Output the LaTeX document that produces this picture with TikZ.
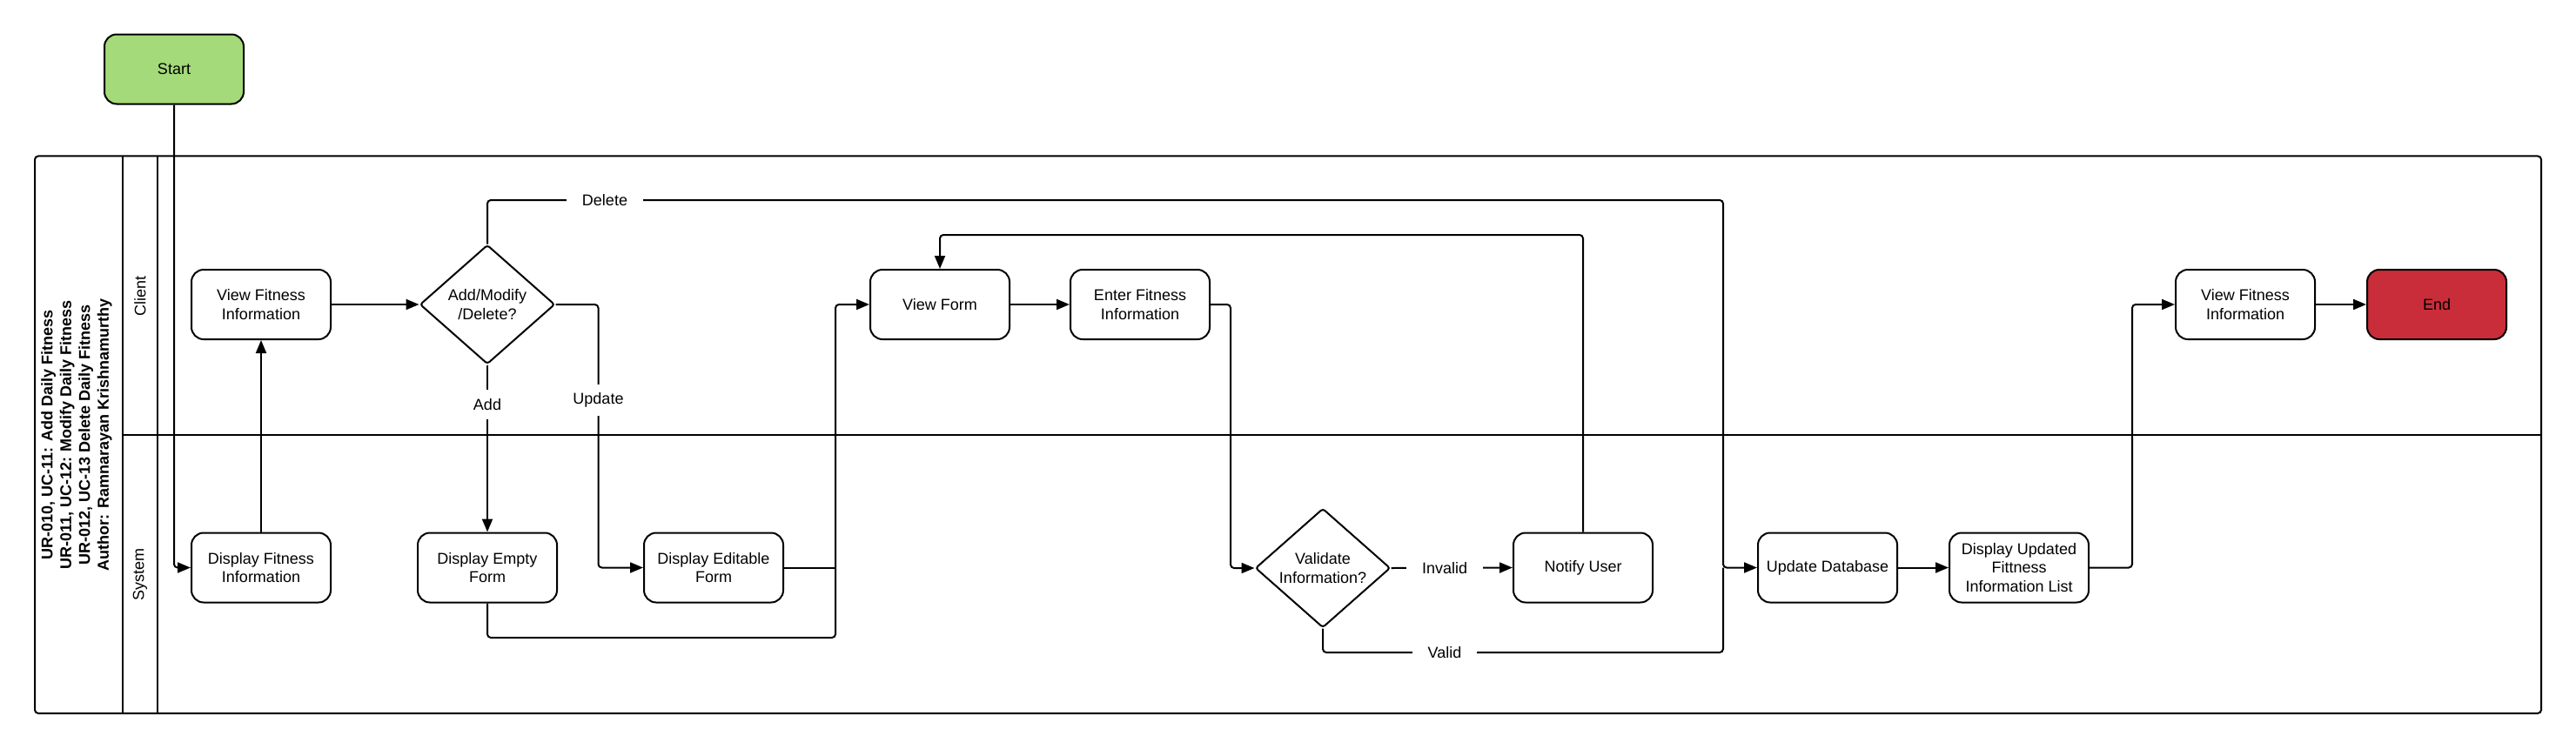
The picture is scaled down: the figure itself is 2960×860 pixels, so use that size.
\documentclass[tikz,border=0pt]{standalone}
\usepackage{fontspec}
\setmainfont{Liberation Sans}
\usetikzlibrary{shapes.geometric,arrows.meta}
\definecolor{startgreen}{HTML}{A4DA79}
\definecolor{endred}{HTML}{C92D39}
\begin{document}
\begin{tikzpicture}[x=1pt,y=-1pt,
  every node/.style={font=\fontsize{18}{21.5}\selectfont},
  box/.style={draw, line width=2pt, rounded corners=14pt, minimum width=160pt, minimum height=80pt, align=center, inner sep=2pt, fill=white},
  decision/.style={draw, diamond, line width=2pt, aspect=1.13, minimum width=155pt, minimum height=137pt, inner sep=0pt, align=center, rounded corners=3pt, fill=white},
  conn/.style={line width=2pt, rounded corners=4pt},
  arr/.style={conn, -{Triangle[length=15pt,width=12pt]}},
  lbl/.style={fill=white, inner xsep=18pt, inner ysep=10pt},
  lane/.style={line width=2pt}]
\useasboundingbox (0,0) rectangle (2960,860);

% pool
\draw[lane, rounded corners=4pt] (40,179.4) rectangle (2920,820);
\draw[lane] (141,179.4) -- (141,820);
\draw[lane] (181,179.4) -- (181,820);
\draw[lane] (141,500) -- (2920,500);
\node[rotate=90, align=center, font=\bfseries\fontsize{18}{21.5}\selectfont] (title) at (88,500)
  {UR-010, UC-11: Add Daily Fitness\\UR-011, UC-12: Modify Daily Fitness\\UR-012, UC-13 Delete Daily Fitness\\Author: Ramnarayan Krishnamurthy};
\node[rotate=90] (client) at (161,340) {Client};
\node[rotate=90] (system) at (161,660) {System};

% nodes
\node[box, fill=startgreen] (start) at (200,79.5) {Start};
\node[box] (vfi) at (300,350) {View Fitness\\Information};
\node[box] (dfi) at (300,652.5) {Display Fitness\\Information};
\node[decision] (dec) at (560,350) {Add/Modify\\/Delete?};
\node[box] (def) at (560,652.5) {Display Empty\\Form};
\node[box] (ded) at (820,652.5) {Display Editable\\Form};
\node[box] (vf) at (1080,350) {View Form};
\node[box] (efi) at (1310,350) {Enter Fitness\\Information};
\node[decision] (val) at (1520,653) {Validate\\Information?};
\node[box] (nu) at (1819,652.5) {Notify User};
\node[box] (udb) at (2100,652.5) {Update Database};
\node[box] (dul) at (2320,652.5) {Display Updated\\Fittness\\Information List};
\node[box] (vfi2) at (2580,350) {View Fitness\\Information};
\node[box, fill=endred] (end) at (2800,350) {End};

% helper coordinates
\coordinate (delc) at (1980,230);
\coordinate (updc) at (687.5,350);
\coordinate (j1) at (960,733);
\coordinate (ec) at (1414,350);
\coordinate (rt) at (1080,270);
\coordinate (vc) at (1980,750);
\coordinate (dc) at (2450,652.5);

% connectors
\draw[arr] (start.south) |- (dfi.west);
\draw[arr] (dfi.north) -- (vfi.south);
\draw[arr] (vfi.east) -- (dec.west);
\draw[arr] (dec.north) |- (delc) |- (udb.west);
\draw[arr] (dec.south) -- (def.north);
\draw[arr] (dec.east) -- (updc) |- (ded.west);
\draw[arr] (def.south) |- (j1) |- (vf.west);
\draw[conn] (ded.east) -- (ded.east -| j1);
\draw[arr] (vf.east) -- (efi.west);
\draw[arr] (efi.east) -- (ec) |- (val.west);
\draw[arr] (val.east) -- (nu.west);
\draw[arr] (nu.north) |- (rt) -- (vf.north);
\draw[conn] (val.south) |- (vc) -- (vc |- udb.west);
\draw[arr] (udb.east) -- (dul.west);
\draw[arr] (dul.east) -- (dc) |- (vfi2.west);
\draw[arr] (vfi2.east) -- (end.west);

% labels
\node[lbl] (ldel) at (695,230) {Delete};
\node[lbl] (ladd) at (560,465) {Add};
\node[lbl] (lupd) at (687.5,460) {Update};
\node[lbl] (linv) at (1660,653) {Invalid};
\node[lbl] (lval) at (1660,750) {Valid};
\end{tikzpicture}
\end{document}
